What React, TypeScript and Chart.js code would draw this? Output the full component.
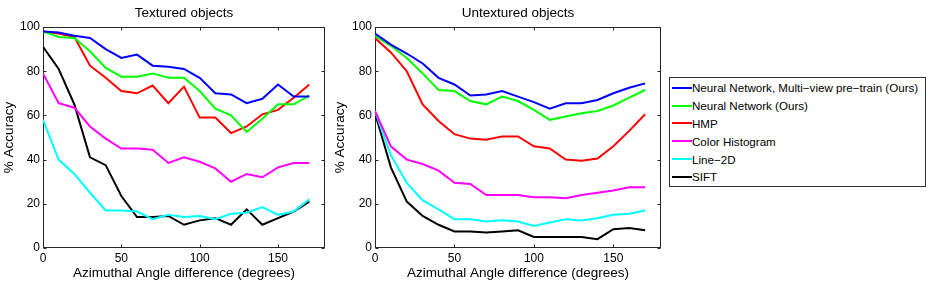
import React, { useEffect, useRef } from 'react';
import { Chart, registerables } from 'chart.js';
Chart.register(...registerables);

const angles = [0, 10, 20, 30, 40, 50, 60, 70, 80, 90, 100, 110, 120, 130, 140, 150, 160, 170];
const xTicks = [0, 50, 100, 150];
const yTicks = [0, 20, 40, 60, 80, 100];

const seriesNames = [
  'Neural Network, Multi−view pre−train (Ours)',
  'Neural Network (Ours)',
  'HMP',
  'Color Histogram',
  'Line−2D',
  'SIFT',
];
const seriesColors = ['#0000ff', '#00ff00', '#ff0000', '#ff00ff', '#00ffff', '#000000'];

// Textured objects
const texMultiView = [98, 97.5, 96, 95, 90, 86, 87.5, 82.5, 82, 81, 77, 70, 69.5, 65.5, 67.5, 74, 68.5, 68.5];
const texNeuralNet = [98, 95.5, 95, 89, 81.5, 77.5, 77.5, 79, 77, 77, 71, 63, 60, 52.5, 58.5, 65, 65, 69];
const texHMP = [98, 97, 95.5, 82.5, 77, 71, 70, 73.5, 65.5, 73, 59, 59, 52, 55, 60.5, 62.5, 68, 74];
const texColorHist = [79, 65.5, 63.5, 55, 49.5, 45, 45, 44.5, 38.5, 41, 39, 36, 30, 33.5, 32, 36.5, 38.5, 38.5];
const texLine2D = [58, 40, 33.5, 25, 17, 17, 16.5, 13, 15, 14, 14.5, 13, 15.5, 16, 18.5, 15, 16.5, 22];
const texSIFT = [91, 81, 65, 41, 37.5, 23.5, 14, 14, 14.5, 10.5, 12.5, 13.5, 10.5, 17.5, 10.5, 13.5, 16.5, 21];

// Untextured objects
const untMultiView = [97, 92, 88, 83.5, 77, 74, 69, 69.5, 71, 68.5, 66, 63, 65.5, 65.5, 67, 70, 72.5, 74.5];
const untNeuralNet = [96, 91.5, 86, 79, 71.5, 71, 66.5, 65, 68.5, 66.5, 62.5, 58, 59.5, 61, 62, 64.5, 68, 71.5];
const untHMP = [95, 88.5, 80, 65, 57.5, 51.5, 49.5, 49, 50.5, 50.5, 46, 45, 40, 39.5, 40.5, 46, 53, 60.5];
const untColorHist = [62, 46, 40, 38, 35, 29.5, 29, 24, 24, 24, 23, 23, 22.5, 24, 25, 26, 27.5, 27.5];
const untLine2D = [62, 42, 29.5, 21.5, 17.5, 13, 13, 12, 12.5, 12, 10, 11.5, 13, 12.5, 13.5, 15, 15.5, 17];
const untSIFT = [61, 36.5, 21, 14.5, 10.5, 7.5, 7.5, 7, 7.5, 8, 5, 5, 5, 5, 4, 8.5, 9, 8];

const FONT = '"Liberation Sans", Arial, Helvetica, sans-serif';

const framePlugin = {
  id: 'matlabFrame',
  beforeDatasetsDraw(chart: any) {
    const { ctx, chartArea } = chart;
    const { left, right, top, bottom } = chartArea;
    const xs = chart.scales.x;
    const ys = chart.scales.y;
    ctx.save();
    ctx.strokeStyle = '#262626';
    ctx.lineWidth = 1;
    const L = Math.round(left) + 0.5;
    const R = Math.round(right) - 0.5;
    const T = Math.round(top) + 0.5;
    const B = Math.round(bottom) - 0.5;
    ctx.strokeRect(L, T, R - L, B - T);
    ctx.beginPath();
    const tl = 3;
    xTicks.forEach((v) => {
      const px = Math.round(xs.getPixelForValue(v)) + 0.5;
      ctx.moveTo(px, B);
      ctx.lineTo(px, B - tl);
      ctx.moveTo(px, T);
      ctx.lineTo(px, T + tl);
    });
    yTicks.forEach((v) => {
      const py = Math.round(ys.getPixelForValue(v)) + 0.5;
      ctx.moveTo(L, py);
      ctx.lineTo(L + tl, py);
      ctx.moveTo(R, py);
      ctx.lineTo(R - tl, py);
    });
    ctx.stroke();
    ctx.restore();
  },
  afterDraw(chart: any, _args: any, opts: any) {
    const { ctx, chartArea } = chart;
    ctx.save();
    ctx.fillStyle = '#000';
    ctx.font = `13.5px ${FONT}`;
    ctx.textAlign = 'center';
    ctx.textBaseline = 'middle';
    ctx.fillText(opts.text || '', (chartArea.left + chartArea.right) / 2, 13);
    ctx.restore();
  },
};

type PanelProps = {
  left: number;
  width: number;
  axisWidth: number;
  rightPad: number;
  yTitlePad: number;
  title: string;
  series: number[][];
};

function Panel({ left, width, axisWidth, rightPad, yTitlePad, title, series }: PanelProps) {
  const ref = useRef<HTMLCanvasElement | null>(null);
  useEffect(() => {
    if (!ref.current) return;
    const chart = new Chart(ref.current, {
      type: 'line',
      data: {
        datasets: series.map((vals, i) => ({
          label: seriesNames[i],
          data: angles.map((a, j) => ({ x: a, y: vals[j] })),
          borderColor: seriesColors[i],
          backgroundColor: seriesColors[i],
          borderWidth: 2,
          pointRadius: 0,
          tension: 0,
          fill: false,
        })),
      },
      options: {
        responsive: false,
        animation: false,
        devicePixelRatio: 1,
        layout: { padding: { top: 27, right: rightPad, left: 0, bottom: 0 } },
        plugins: {
          legend: { display: false },
          tooltip: { enabled: false },
          title: { display: false },
          matlabFrame: { text: title },
        } as any,
        scales: {
          x: {
            type: 'linear',
            min: 0,
            max: 180,
            grid: { display: false, drawTicks: false },
            border: { display: false },
            afterBuildTicks: (s: any) => {
              s.ticks = xTicks.map((v) => ({ value: v }));
            },
            afterFit: (s: any) => {
              s.height = 33;
            },
            ticks: {
              color: '#000',
              padding: 3,
              maxRotation: 0,
              font: { family: FONT, size: 12 },
            },
            title: {
              display: true,
              text: 'Azimuthal Angle difference (degrees)',
              color: '#000',
              font: { family: FONT, size: 13.5 },
              padding: { top: 0, bottom: 0 },
            },
          },
          y: {
            type: 'linear',
            min: 0,
            max: 100,
            grid: { display: false, drawTicks: false },
            border: { display: false },
            afterBuildTicks: (s: any) => {
              s.ticks = yTicks.map((v) => ({ value: v }));
            },
            afterFit: (s: any) => {
              s.width = axisWidth;
            },
            ticks: {
              color: '#000',
              padding: 3,
              font: { family: FONT, size: 12 },
            },
            title: {
              display: true,
              text: '% Accuracy',
              color: '#000',
              font: { family: FONT, size: 13.5 },
              padding: { top: yTitlePad, bottom: 0 },
            },
          },
        },
      } as any,
      plugins: [framePlugin],
    });
    return () => chart.destroy();
  }, []);
  return (
    <canvas
      ref={ref}
      width={width}
      height={281}
      style={{ position: 'absolute', left, top: 0, width, height: 281 }}
    />
  );
}

export default function App() {
  useEffect(() => {
    document.body.style.margin = '0';
  }, []);
  return (
    <div style={{ position: 'relative', width: 933, height: 281, background: '#fff', overflow: 'hidden' }}>
      <Panel
        left={0}
        width={330}
        axisWidth={43}
        rightPad={5}
        yTitlePad={1}
        title="Textured objects"
        series={[texMultiView, texNeuralNet, texHMP, texColorHist, texLine2D, texSIFT]}
      />
      <Panel
        left={330}
        width={338}
        axisWidth={45}
        rightPad={7}
        yTitlePad={2}
        title="Untextured objects"
        series={[untMultiView, untNeuralNet, untHMP, untColorHist, untLine2D, untSIFT]}
      />
      <div
        style={{
          position: 'absolute',
          left: 669,
          top: 77,
          width: 257,
          height: 110,
          boxSizing: 'border-box',
          border: '1px solid #333',
          background: '#fff',
          fontFamily: FONT,
          fontSize: 11.6,
          color: '#000',
          paddingTop: 1,
        }}
      >
        {seriesNames.map((n, i) => (
          <div key={n} style={{ display: 'flex', alignItems: 'center', height: 17.8, whiteSpace: 'nowrap' }}>
            <div style={{ width: 20, height: 2, marginLeft: 2, background: seriesColors[i], flex: 'none' }} />
            <span>{n}</span>
          </div>
        ))}
      </div>
    </div>
  );
}
